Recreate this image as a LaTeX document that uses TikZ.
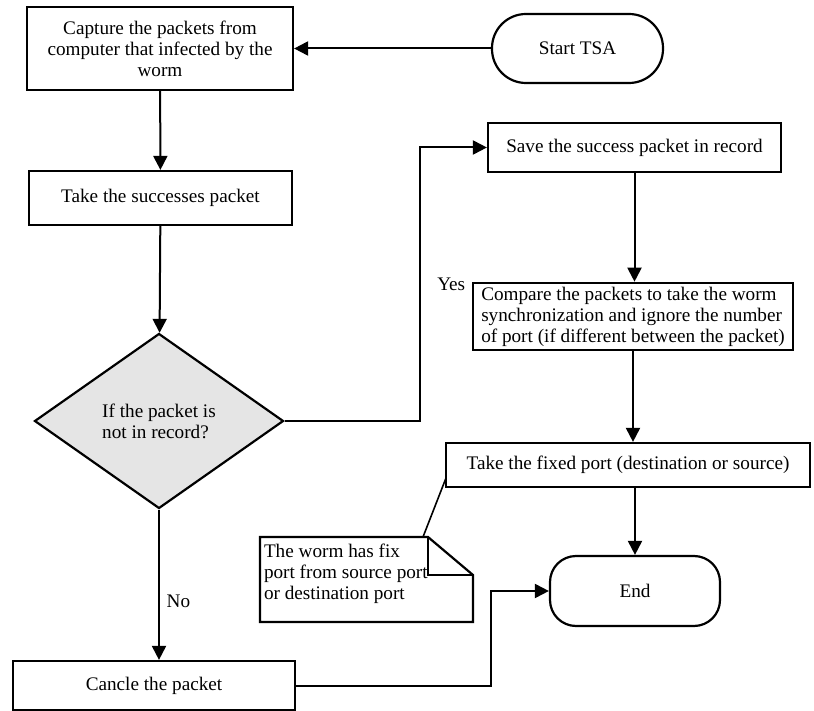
\documentclass[tikz,border=0pt]{standalone}
\usepackage{fontspec}
\setmainfont{Liberation Serif}
\usetikzlibrary{shapes.geometric,arrows.meta}

\begin{document}
\begin{tikzpicture}[x=0.5pt,y=-0.5pt,>={Triangle[length=7pt,width=7pt]},line width=1pt]
    \tikzstyle{every node}=[font=\fontsize{9.6}{10.5}\selectfont]
    \tikzstyle{process}=[draw,rectangle,inner sep=2pt,line width=1.1pt]
    \tikzstyle{terminal}=[draw,rectangle,line width=1.1pt,minimum height=34.5pt,minimum width=85.5pt]
    \useasboundingbox (0,0) rectangle (814,711);
    % left column
    \node[process,minimum width=133pt,minimum height=41.5pt,align=center] (capture) at (160,48.5)
        {Capture the packets from\\computer that infected by the\\worm};
    \node[process,minimum width=131.5pt,minimum height=27pt] (success) at (160.5,198)
        {Take the successes packet};
    \node[draw,diamond,line width=1.1pt,fill=gray!20,minimum width=124.5pt,minimum height=87.5pt,
        inner sep=0pt,align=left] (check) at (159,421) {If the packet is\\not in record?};
    \node[process,minimum width=141pt,minimum height=24.5pt] (cancel) at (154,685.5)
        {Cancle the packet};
    % right column
    \node[terminal,rounded corners=17pt] (start) at (577.5,48.5) {Start TSA};
    \node[process,minimum width=146.5pt,minimum height=24.5pt] (save) at (634.5,147.5)
        {Save the success packet in record};
    \node[process,minimum width=160pt,minimum height=33.5pt,align=left] (compare) at (633,316.5)
        {Compare the packets to take the worm\\synchronization and ignore the number\\of port (if different between the packet)};
    \node[process,minimum width=182pt,minimum height=22pt] (fixed) at (628,465)
        {Take the fixed port (destination or source)};
    \node[terminal,rounded corners=13pt,minimum width=85pt,minimum height=35pt] (end) at (635,591) {End};
    % the note with its folded corner
    \coordinate (fold) at (428,537);
    \draw[line width=1.1pt] (260,537) -- (fold) -- (473,575) -- (473,622) -- (260,622) -- cycle;
    \draw[line width=1.1pt] (fold) -- (428,575) -- (473,575);
    \node[anchor=north west,align=left,inner sep=1pt] (notetext) at (261,541)
        {The worm has fix\\port from source port\\or destination port};
    \coordinate (notetip) at (423,537);
    \coordinate (lead) at (446,478);
    \draw[line width=0.8pt] (notetip) -- (lead);
    % connectors
    \draw[->] (start) -- (capture);
    \draw[->] (capture) -- (success);
    \draw[->] (success) -- (check);
    \draw[->] (check.east) -- ++(135,0) |- node[pos=0.25,right,xshift=5pt] {Yes} (save.west);
    \draw[->] (check.south) -- node[pos=0.61,right] {No} (check.south |- cancel.north);
    \draw[->] (save.south) -- (save.south |- compare.north);
    \draw[->] (compare.south) -- (compare.south |- fixed.north);
    \draw[->] (end.north |- fixed.south) -- (end.north);
    \draw[->] (cancel.east) -- ++(195,0) |- (end.west);
\end{tikzpicture}
\end{document}
